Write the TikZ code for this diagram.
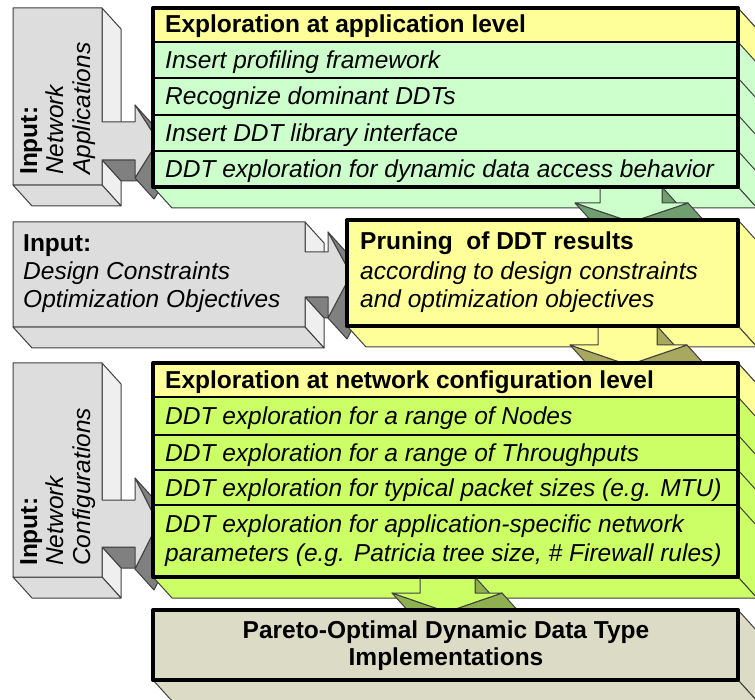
\documentclass[tikz,border=0pt]{standalone}
\usepackage{fontspec}
\setmainfont{Liberation Sans}
\definecolor{hdryellow}{HTML}{FFFF99}
\definecolor{lightgreen}{HTML}{CCFFCC}
\definecolor{limegreen}{HTML}{CCFF66}
\definecolor{finalbg}{HTML}{DCDCC6}
\definecolor{inputgrey}{HTML}{DDDDDD}
\definecolor{inputside}{HTML}{EFEFEF}
\definecolor{inputdark}{HTML}{808080}
\definecolor{greendark}{HTML}{6F9F6F}
\definecolor{olivedark}{HTML}{A9A860}
\definecolor{limedark}{HTML}{8FB050}
\tikzset{
  sideedge/.style={draw=black!75, line width=1pt},
  divider/.style={draw=black, line width=1.6pt},
  frame/.style={draw=black, line width=4pt},
  txt/.style={inner sep=0pt, anchor=base west, font=\fontsize{24.5}{28}\selectfont},
  ittxt/.style={txt, font=\fontsize{24.5}{28}\selectfont\itshape},
  bftxt/.style={txt, font=\fontsize{24.5}{28}\selectfont\bfseries},
}
% input block arrow pointing right:
% #1 x0, #2 y0, #3 body right, #4 body bottom, #5 shaft top, #6 shaft bottom,
% #7 head base x, #8 head top, #9 head bottom
\newcommand{\inarrow}[9]{%
  \pgfmathsetmacro{\tipx}{#7+23}\pgfmathsetmacro{\tipy}{(#5+#6)/2}%
  \path[sideedge, fill=inputside] (#3,#2) -- ({#3+19},{#2+21}) -- ({#3+19},{#5+21}) -- (#3,#5) -- cycle;
  \path[sideedge, fill=inputdark] (#7,#8) -- (\tipx,\tipy) -- ({\tipx+19},{\tipy+21}) -- ({#7+19},{#8+21}) -- cycle;
  \path[sideedge, fill=inputdark] (#3,#6) -- (#7,#6) -- ({#7+19},{#6+21}) -- ({#3+19},{#6+21}) -- cycle;
  \path[sideedge, fill=inputdark] (\tipx,\tipy) -- (#7,#9) -- ({#7+19},{#9+21}) -- ({\tipx+19},{\tipy+21}) -- cycle;
  \path[sideedge, fill=inputside] (#3,#6) -- (#3,#4) -- ({#3+19},{#4+21}) -- ({#3+19},{#6+21}) -- cycle;
  \path[sideedge, fill=inputgrey] (#1,#4) -- (#3,#4) -- ({#3+19},{#4+21}) -- ({#1+19},{#4+21}) -- cycle;
  \path[sideedge, fill=inputgrey] (#1,#2) -- (#3,#2) -- (#3,#5) -- (#7,#5) -- (#7,#8) -- (\tipx,\tipy)
     -- (#7,#9) -- (#7,#6) -- (#3,#6) -- (#3,#4) -- (#1,#4) -- cycle;
}
% down block arrow:
% #1 shaft left, #2 shaft right, #3 shaft top, #4 head top, #5 head left, #6 head right,
% #7 tip y, #8 front colour, #9 side colour
\newcommand{\dnarrow}[9]{%
  \pgfmathsetmacro{\tipx}{(#5+#6)/2}%
  \path[sideedge, fill=#9] (#2,#3) -- (#2,#4) -- ({#2+19},{#4+21}) -- ({#2+19},{#3+21}) -- cycle;
  \path[sideedge, fill=#9] (#5,#4) -- (\tipx,#7) -- ({\tipx+19},{#7+21}) -- ({#5+19},{#4+21}) -- cycle;
  \path[sideedge, fill=#9] (#6,#4) -- (\tipx,#7) -- ({\tipx+19},{#7+21}) -- ({#6+19},{#4+21}) -- cycle;
  \path[sideedge, fill=#8] (#1,#3) -- (#2,#3) -- (#2,#4) -- (#6,#4) -- (\tipx,#7) -- (#5,#4) -- (#1,#4) -- cycle;
}
% box side faces: #1 x0, #2 y0, #3 x1, #4 y1, #5 colour
\newcommand{\boxsides}[5]{%
  \path[sideedge, fill=#5] (#3,#2) -- ({#3+19},{#2+21}) -- ({#3+19},{#4+21}) -- (#3,#4) -- cycle;
  \path[sideedge, fill=#5] (#1,#4) -- (#3,#4) -- ({#3+19},{#4+21}) -- ({#1+19},{#4+21}) -- cycle;
}
\begin{document}
\begin{tikzpicture}[x=1pt, y=-1pt, line join=round]
\clip (0,0) rectangle (755,700);
\fill[white] (0,0) rectangle (755,700);

% ---------- input arrows ----------
\inarrow{13}{8}{102}{185}{122}{160}{135}{105}{178}
\inarrow{13}{222}{305}{327}{252}{297}{328}{232}{318}
\inarrow{13}{363}{102}{577}{500}{547}{135}{478}{569}

\node[bftxt, rotate=90] (in1a) at (37,175) {Input:};
\node[ittxt, rotate=90] (in1b) at (63.5,175) {Network};
\node[ittxt, rotate=90] (in1c) at (90,175) {Applications};

\node[bftxt] (in2a) at (23,252) {Input:};
\node[ittxt] (in2b) at (23,280) {Design Constraints};
\node[ittxt] (in2c) at (23,308) {Optimization Objectives};

\node[bftxt, rotate=90] (in3a) at (37,566) {Input:};
\node[ittxt, rotate=90] (in3b) at (63.5,566) {Network};
\node[ittxt, rotate=90] (in3c) at (90,566) {Configurations};

% ---------- box 1 ----------
\boxsides{153}{8}{738}{187}{lightgreen}
\path[sideedge, fill=hdryellow] (738,8) -- (757,29) -- (757,63) -- (738,42) -- cycle;
\foreach \y in {78,115,151} \draw[sideedge] (738,\y) -- (757,\y+21);
\dnarrow{600}{662}{187}{203}{575}{688}{222}{lightgreen}{greendark}
\fill[hdryellow] (153,8) rectangle (738,42);
\fill[lightgreen] (153,42) rectangle (738,187);
\foreach \y in {42,78,115,151} \draw[divider] (153,\y) -- (738,\y);
\draw[frame] (153,8) rectangle (738,187);
\node[bftxt] (b1h) at (165,33) {Exploration at application level};
\node[ittxt] (b1r1) at (165,68.5) {Insert profiling framework};
\node[ittxt] (b1r2) at (165,105) {Recognize dominant DDTs};
\node[ittxt] (b1r3) at (165,141.5) {Insert DDT library interface};
\node[ittxt] (b1r4) at (165,177.5) {DDT exploration for dynamic data access behavior};

% ---------- box 2 ----------
\boxsides{347}{220}{738}{326}{hdryellow}
\dnarrow{598}{657}{326}{345}{570}{687}{365}{hdryellow}{olivedark}
\fill[hdryellow] (347,220) rectangle (738,326);
\draw[frame] (347,220) rectangle (738,326);
\node[bftxt] (b2a) at (360,250) {Pruning~ of DDT results};
\node[ittxt] (b2b) at (360,280) {according to design constraints};
\node[ittxt] (b2c) at (360,308) {and optimization objectives};

% ---------- box 3 ----------
\boxsides{153}{363}{738}{577}{limegreen}
\path[sideedge, fill=hdryellow] (738,363) -- (757,384) -- (757,418) -- (738,397) -- cycle;
\foreach \y in {435,470,505} \draw[sideedge] (738,\y) -- (757,\y+21);
\dnarrow{420}{475}{577}{593}{392}{502}{612}{limegreen}{limedark}
\fill[hdryellow] (153,363) rectangle (738,397);
\fill[limegreen] (153,397) rectangle (738,577);
\foreach \y in {397,435,470,505} \draw[divider] (153,\y) -- (738,\y);
\draw[frame] (153,363) rectangle (738,577);
\node[bftxt] (b3h) at (165,388.5) {Exploration at network configuration level};
\node[ittxt] (b3r1) at (165,424.5) {DDT exploration for a range of Nodes};
\node[ittxt] (b3r2) at (165,461) {DDT exploration for a range of Throughputs};
\node[ittxt] (b3r3) at (165,496) {DDT exploration for typical packet sizes (e.g. MTU)};
\node[ittxt] (b3r4) at (165,532) {DDT exploration for application-specific network};
\node[ittxt] (b3r5) at (165,561) {parameters (e.g. Patricia tree size, \# Firewall rules)};

% ---------- final box ----------
\boxsides{153}{610}{738}{680}{finalbg}
\fill[finalbg] (153,610) rectangle (738,680);
\draw[frame] (153,610) rectangle (738,680);
\node[bftxt, anchor=base] (fin1) at (446,638) {Pareto-Optimal Dynamic Data Type};
\node[bftxt, anchor=base] (fin2) at (446,665) {Implementations};
\end{tikzpicture}
\end{document}
